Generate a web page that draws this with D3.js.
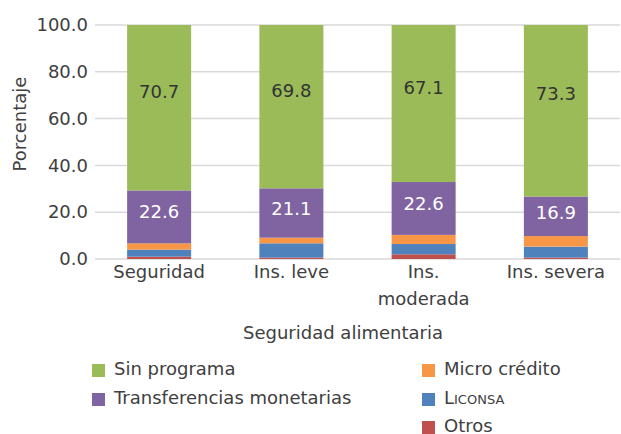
<!DOCTYPE html>
<html>
<head>
<meta charset="utf-8">
<script src="https://cdn.jsdelivr.net/npm/d3@7"></script>
<style>
  body { margin: 0; background: #fff; }
  text { font-family: "DejaVu Sans", Verdana, sans-serif; fill: #404040; }
</style>
</head>
<body>
<script>
// data (percent)
var categories = [["Seguridad"], ["Ins. leve"], ["Ins.", "moderada"], ["Ins. severa"]];
var otros = [1.0, 0.6, 2.0, 0.6];
var liconsa = [3.0, 6.1, 4.4, 4.7];
var microCredito = [2.7, 2.4, 3.9, 4.5];
var transferencias = [22.6, 21.1, 22.6, 16.9];
var sinPrograma = [70.7, 69.8, 67.1, 73.3];
var yTicks = [0, 20, 40, 60, 80, 100];

var series = [
  {name: "Otros", values: otros, color: "#C0504D"},
  {name: "Liconsa", values: liconsa, color: "#4F81BD"},
  {name: "Micro crédito", values: microCredito, color: "#F79646"},
  {name: "Transferencias monetarias", values: transferencias, color: "#8064A2", label: true, labelColor: "#fff"},
  {name: "Sin programa", values: sinPrograma, color: "#9BBB59", label: true, labelColor: "#333"}
];

var svgWidth = 621, svgHeight = 434;
var plotLeft = 93, plotRight = 622, plotTop = 25, plotBottom = 259;

var svg = d3.select("body").append("svg")
  .attr("width", svgWidth)
  .attr("height", svgHeight);

var xScale = d3.scaleBand()
  .domain(d3.range(categories.length))
  .range([plotLeft, plotRight])
  .paddingInner(0.516)
  .paddingOuter(0.258);

var yScale = d3.scaleLinear()
  .domain([0, 100])
  .range([plotBottom, plotTop]);

// gridlines
svg.append("g")
  .selectAll("line")
  .data(yTicks)
  .enter()
  .append("line")
  .attr("x1", plotLeft + 2)
  .attr("x2", 620)
  .attr("y1", d => yScale(d))
  .attr("y2", d => yScale(d))
  .attr("stroke", "#d9d9d9")
  .attr("stroke-width", 1.5);

// y axis labels
var yAxis = d3.axisLeft(yScale)
  .tickValues(yTicks)
  .tickFormat(d3.format(".1f"))
  .tickSize(0)
  .tickPadding(0);

var yG = svg.append("g")
  .attr("transform", "translate(" + (plotLeft - 5) + ",0)")
  .call(yAxis);
yG.select(".domain").remove();
yG.attr("font-family", null).attr("font-size", 18);
yG.selectAll("text")
  .style("fill", "#404040");

// stacked bars
var stackData = categories.map(function(c, i) {
  var row = {i: i};
  series.forEach(function(s) { row[s.name] = s.values[i]; });
  return row;
});
var stack = d3.stack().keys(series.map(s => s.name))(stackData);

stack.forEach(function(layer, k) {
  var s = series[k];
  var g = svg.append("g");
  g.selectAll("rect")
    .data(layer)
    .enter()
    .append("rect")
    .attr("x", d => xScale(d.data.i))
    .attr("width", xScale.bandwidth())
    .attr("y", d => yScale(d[1]))
    .attr("height", d => yScale(d[0]) - yScale(d[1]))
    .attr("fill", s.color);
  if (s.label) {
    g.selectAll("text")
      .data(layer)
      .enter()
      .append("text")
      .attr("x", d => xScale(d.data.i) + xScale.bandwidth() / 2)
      .attr("y", d => yScale(d[0] + (d[1] - d[0]) * 0.6))
      .attr("text-anchor", "middle")
      .attr("dominant-baseline", "central")
      .attr("font-size", 18)
      .style("fill", s.labelColor)
      .text(d => d3.format(".1f")(d[1] - d[0]));
  }
});

// x category labels
var xLab = svg.append("g")
  .selectAll("text")
  .data(categories)
  .enter()
  .append("text")
  .attr("x", (d, i) => xScale(i) + xScale.bandwidth() / 2)
  .attr("y", 278)
  .attr("text-anchor", "middle")
  .attr("font-size", 18);
xLab.selectAll("tspan")
  .data(d => d)
  .enter()
  .append("tspan")
  .attr("x", function() { return this.parentNode.getAttribute("x"); })
  .attr("dy", (d, j) => j === 0 ? 0 : 27)
  .text(d => d);

// axis titles
svg.append("text")
  .attr("x", 343)
  .attr("y", 339)
  .attr("text-anchor", "middle")
  .attr("font-size", 18)
  .text("Seguridad alimentaria");

svg.append("text")
  .attr("transform", "translate(26,124) rotate(-90)")
  .attr("text-anchor", "middle")
  .attr("font-size", 18)
  .text("Porcentaje");

// legend
var legendItems = [
  {s: series[4], x: 92, y: 371},
  {s: series[3], x: 92, y: 400},
  {s: series[2], x: 422, y: 371},
  {s: series[1], x: 422, y: 400},
  {s: series[0], x: 422, y: 428}
];
var leg = svg.append("g")
  .selectAll("g")
  .data(legendItems)
  .enter()
  .append("g")
  .attr("transform", d => "translate(" + d.x + "," + d.y + ")");
leg.append("rect")
  .attr("x", 0)
  .attr("y", -7)
  .attr("width", 13)
  .attr("height", 13)
  .attr("fill", d => d.s.color);
leg.append("text")
  .attr("x", 22)
  .attr("y", 3.5)
  .attr("font-size", 18)
  .style("font-variant", d => d.s.name === "Liconsa" ? "small-caps" : null)
  .text(d => d.s.name);
</script>
</body>
</html>
